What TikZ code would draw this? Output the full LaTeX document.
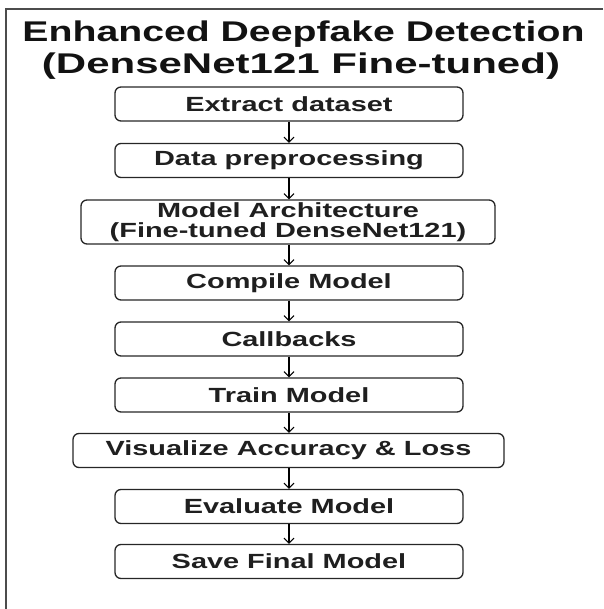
\documentclass[tikz,border=0pt]{standalone}
\usepackage{fontspec}
\setmainfont{Liberation Sans}
\usetikzlibrary{arrows.meta}
\newcommand{\boxtxt}[1]{\scalebox{1.41}[1]{#1}}
\begin{document}
\begin{tikzpicture}[x=1pt,y=-1pt,
  stepbox/.style={draw=black!85, line width=1.3pt, rounded corners=6pt,
    minimum width=348pt, minimum height=34pt, inner sep=0pt,
    font=\bfseries\fontsize{20.5}{20}\selectfont, text=black!88},
  flow/.style={draw=black, line width=1.1pt, -{Straight Barb[length=5pt,width=10pt]}},
  titletxt/.style={font=\bfseries\fontsize{28.5}{32}\selectfont, text=black!93, inner sep=0pt, anchor=base},
  frame/.style={draw=black!70, line width=1.2pt}
]
\useasboundingbox (0,0) rectangle (603,609);
\coordinate (fr1) at (603,9);
\coordinate (fr2) at (6,9);
\coordinate (fr3) at (6,609);
\draw[frame] (fr1) -- (fr2) -- (fr3);

\node[titletxt] (t1) at (303.5,42) {\resizebox{562pt}{\height}{Enhanced Deepfake Detection}};
\node[titletxt] (t2) at (301,73.5) {\resizebox{518pt}{\height}{(DenseNet121 Fine-tuned)}};

\node[stepbox] (b1) at (289,104) {\boxtxt{Extract dataset}};
\node[stepbox] (b2) at (289,160.5) {\boxtxt{Data preprocessing}};
\node[stepbox, minimum width=414pt, minimum height=44pt, align=center] (b3) at (288,222)
  {\boxtxt{Model Architecture}\\\boxtxt{(Fine-tuned DenseNet121)}};
\node[stepbox] (b4) at (289,283) {\boxtxt{Compile Model}};
\node[stepbox] (b5) at (289,339) {\boxtxt{Callbacks}};
\node[stepbox] (b6) at (289,395) {\boxtxt{Train Model}};
\node[stepbox, minimum width=431pt] (b7) at (288.5,450.5) {\boxtxt{Visualize Accuracy \& Loss}};
\node[stepbox] (b8) at (289,506.5) {\boxtxt{Evaluate Model}};
\node[stepbox] (b9) at (289,561.5) {\boxtxt{Save Final Model}};

\foreach \a/\b in {b1/b2,b2/b3,b3/b4,b4/b5,b5/b6,b6/b7,b7/b8,b8/b9}
  \draw[flow] (\a.south -| b1.south) -- (\b.north -| b1.south);
\end{tikzpicture}
\end{document}
